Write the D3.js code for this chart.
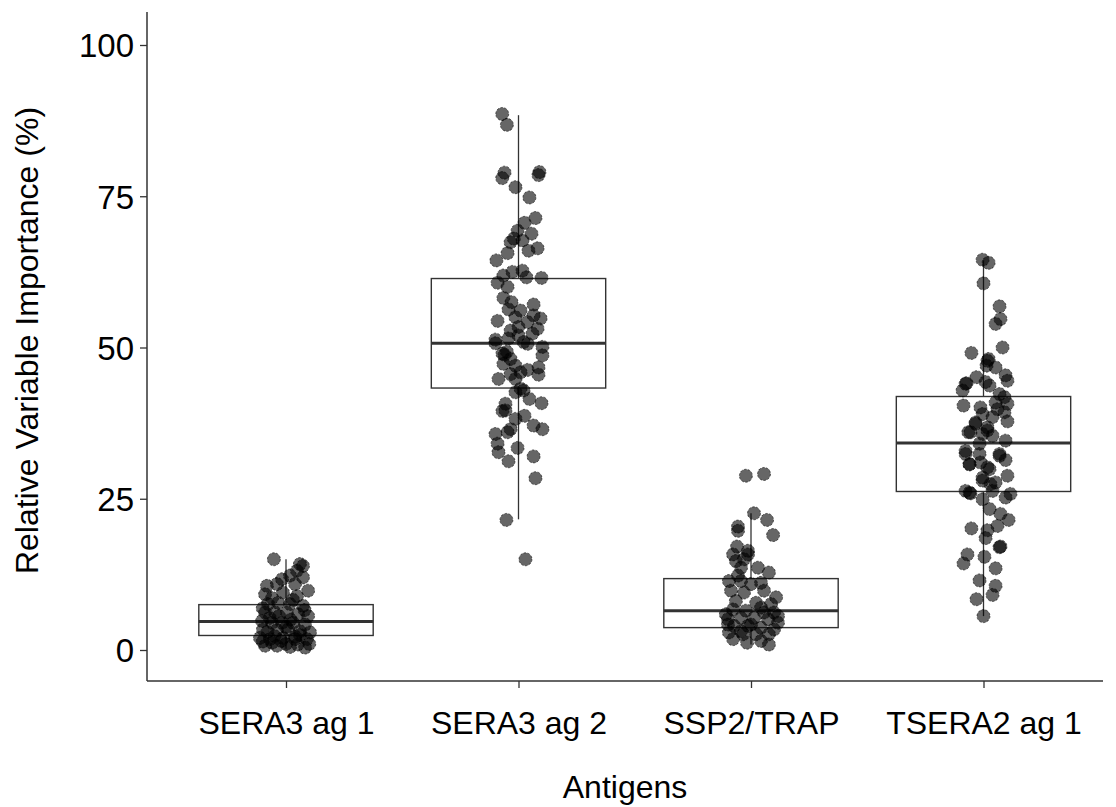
<!DOCTYPE html>
<html>
<head>
<meta charset="utf-8">
<script src="https://cdn.jsdelivr.net/npm/d3@7"></script>
<style>
  body { margin: 0; background: #fff; }
  svg text { font-family: "Liberation Sans", Arial, sans-serif; fill: #000; }
</style>
</head>
<body>
<svg id="chart" width="1116" height="807"></svg>
<script>
// Categories and tick labels
const antigens = ['SERA3 ag 1', 'SERA3 ag 2', 'SSP2/TRAP', 'TSERA2 ag 1'];
const yTicks = [0, 25, 50, 75, 100];

// Box stats: [lower whisker, q1, median, q3, upper whisker]
const boxSERA3ag1 = [0.2, 2.4, 4.7, 7.5, 15.0];
const boxSERA3ag2 = [21.6, 43.3, 50.7, 61.4, 88.4];
const boxSSP2 = [0.9, 3.7, 6.5, 11.8, 22.6];
const boxTSERA2 = [5.6, 26.2, 34.2, 41.9, 64.4];

// Jittered points: [jitter (category units), importance %]
const ptsSERA3ag1 = [
  [-0.052, 15.0], [0.06, 14.2], [0.073, 13.9], [0.047, 13.1], [0.017, 12.3], [-0.017, 11.7],
  [0.073, 12.0], [0.095, 9.8], [-0.082, 10.6], [-0.039, 10.9], [0.039, 10.9], [-0.09, 9.2],
  [-0.013, 9.5], [0.047, 8.9], [-0.077, 7.6], [-0.034, 7.8], [0.017, 7.6], [0.073, 7.3],
  [-0.09, 6.2], [-0.047, 6.2], [0.004, 6.2], [0.052, 5.9], [0.095, 5.6], [-0.103, 4.8],
  [-0.06, 4.5], [-0.017, 4.5], [0.03, 4.5], [0.082, 4.2], [-0.099, 3.4], [-0.039, 3.3],
  [0.009, 3.4], [0.06, 3.1], [0.103, 2.9], [-0.112, 2.0], [-0.069, 1.8], [-0.013, 2.0],
  [0.039, 1.8], [0.09, 1.8], [-0.09, 0.7], [-0.039, 0.7], [0.017, 0.5], [0.082, 0.4],
  [-0.07, 5.3], [-0.03, 5.6], [0.02, 5.0], [0.06, 2.5], [-0.08, 3.0], [-0.05, 2.3],
  [0.0, 1.0], [0.05, 0.9], [-0.06, 1.2], [0.08, 6.6], [-0.1, 6.9], [0.03, 8.3],
  [-0.06, 8.6], [0.0, 3.8], [0.04, 2.2], [-0.02, 1.5], [0.1, 1.0], [-0.1, 1.4]
];
const ptsSERA3ag2 = [
  [-0.07, 88.6], [-0.05, 86.8], [-0.06, 78.9], [-0.07, 78.0], [0.09, 79.0], [0.086, 78.5],
  [-0.013, 76.5], [0.047, 74.8], [0.073, 71.4], [0.026, 70.6], [-0.004, 69.3], [0.056, 68.8],
  [-0.02, 68.0], [-0.034, 67.4], [0.017, 67.7], [0.082, 66.4], [0.043, 66.0], [-0.047, 65.6],
  [-0.095, 64.4], [-0.026, 62.5], [0.017, 62.7], [-0.065, 61.9], [0.034, 61.6], [0.099, 61.5],
  [-0.09, 60.7], [-0.047, 60.0], [-0.065, 58.2], [0.065, 57.1], [-0.043, 56.3], [0.009, 56.1],
  [-0.09, 54.4], [0.095, 54.8], [-0.013, 55.0], [0.065, 55.3], [0.039, 54.2], [0.0, 53.4],
  [0.082, 53.1], [-0.034, 52.8], [-0.099, 51.3], [-0.043, 51.5], [0.022, 50.9], [0.103, 50.1],
  [-0.099, 50.7], [0.039, 50.6], [-0.069, 49.0], [-0.034, 48.1], [0.103, 48.7], [-0.065, 47.3],
  [-0.013, 47.0], [0.086, 46.7], [0.039, 46.3], [0.009, 45.9], [-0.034, 45.6], [0.086, 45.5],
  [-0.086, 44.8], [-0.013, 44.8], [0.009, 43.2], [-0.013, 42.6], [0.022, 42.9], [0.047, 41.5],
  [0.099, 40.8], [-0.056, 40.7], [-0.069, 39.5], [-0.056, 39.6], [0.026, 38.7], [-0.013, 38.2],
  [0.065, 37.1], [0.103, 36.5], [-0.034, 36.5], [-0.099, 35.7], [-0.047, 36.0], [-0.09, 34.1],
  [-0.004, 33.4], [-0.086, 32.7], [0.065, 32.0], [-0.043, 31.2], [0.073, 28.4], [-0.052, 21.5],
  [0.03, 15.0], [-0.06, 48.8], [-0.05, 49.3], [-0.03, 57.5], [0.0, 52.0], [0.06, 52.3]
];
const ptsSSP2 = [
  [-0.022, 28.8], [0.056, 29.1], [0.013, 22.6], [0.069, 21.5], [0.095, 19.0], [-0.056, 20.4],
  [-0.056, 19.7], [-0.06, 17.1], [-0.013, 16.4], [-0.065, 14.7], [-0.03, 15.0], [-0.043, 13.6],
  [0.03, 13.6], [0.077, 12.8], [-0.095, 11.4], [-0.043, 11.4], [0.0, 10.9], [0.043, 11.1],
  [-0.086, 9.8], [-0.03, 9.5], [0.056, 9.8], [0.108, 8.7], [-0.065, 8.1], [0.022, 7.8],
  [0.086, 7.6], [0.043, 7.0], [-0.077, 6.7], [-0.022, 6.5], [0.099, 6.2], [-0.099, 5.1],
  [-0.043, 5.3], [0.013, 5.3], [0.073, 5.1], [0.116, 4.5], [-0.073, 4.0], [-0.013, 4.0],
  [0.043, 3.7], [0.099, 3.4], [-0.095, 2.9], [-0.034, 2.6], [0.022, 2.6], [0.077, 2.6],
  [-0.077, 1.8], [-0.017, 1.2], [0.043, 1.5], [0.077, 0.9], [-0.043, 3.1], [-0.099, 4.2],
  [0.116, 5.6], [0.0, 4.2], [-0.108, 5.9], [0.056, 6.2], [-0.056, 12.3], [-0.077, 15.8],
  [-0.013, 15.8]
];
const ptsTSERA2 = [
  [-0.004, 64.5], [0.022, 64.0], [0.0, 60.6], [0.069, 56.8], [0.073, 54.7], [0.052, 53.9],
  [0.082, 50.0], [-0.052, 49.1], [0.022, 48.1], [0.013, 47.0], [0.052, 46.7], [0.095, 45.4],
  [-0.03, 45.1], [0.103, 44.5], [-0.073, 44.1], [0.009, 44.3], [-0.09, 42.9], [0.026, 43.7],
  [0.069, 42.3], [0.09, 41.8], [0.052, 40.9], [0.103, 40.7], [-0.086, 40.4], [-0.013, 40.1],
  [0.06, 39.8], [-0.004, 39.0], [0.09, 39.3], [0.039, 38.5], [0.103, 37.8], [-0.034, 37.4],
  [0.017, 36.8], [-0.065, 36.0], [-0.004, 35.7], [0.039, 35.4], [0.095, 34.6], [-0.017, 34.1],
  [-0.077, 32.4], [0.069, 32.4], [0.095, 31.4], [-0.06, 30.7], [-0.013, 31.0], [0.026, 29.9],
  [0.103, 28.8], [-0.004, 28.0], [0.052, 27.7], [-0.077, 26.3], [-0.056, 25.9], [0.039, 26.3],
  [0.116, 25.8], [0.095, 25.2], [-0.004, 24.9], [0.026, 23.3], [0.073, 22.5], [0.108, 21.5],
  [0.06, 20.5], [-0.052, 20.1], [0.017, 19.8], [0.009, 18.5], [0.073, 17.1], [0.069, 17.0],
  [-0.069, 15.8], [0.004, 15.4], [-0.086, 14.3], [0.052, 13.5], [-0.017, 11.5], [0.052, 10.6],
  [0.039, 9.1], [-0.03, 8.4], [0.0, 5.6], [0.017, 47.8], [-0.077, 44.0], [-0.034, 37.6],
  [-0.056, 36.0], [0.017, 36.3], [-0.077, 32.9], [-0.017, 32.4], [0.069, 32.1], [-0.06, 30.7],
  [0.017, 30.2], [-0.004, 28.5], [0.03, 27.4], [-0.06, 26.0]
];

const boxes = [boxSERA3ag1, boxSERA3ag2, boxSSP2, boxTSERA2];
const points = [ptsSERA3ag1, ptsSERA3ag2, ptsSSP2, ptsTSERA2];

const svg = d3.select('#chart');
const panel = { left: 147, right: 1103, top: 12, bottom: 681 };
const FONT = '"Liberation Sans", Arial, sans-serif';

const x = d3.scalePoint().domain(antigens).range([286, 983.5]);
const step = x.step();
const y = d3.scaleLinear().domain([0, 100]).range([650, 45]);
const boxW = step * 0.75;

// Boxes + whiskers
const gBox = svg.append('g').attr('class', 'boxes');
antigens.forEach((name, i) => {
  const b = boxes[i], cx = x(name);
  const g = gBox.append('g');
  g.append('line').attr('x1', cx).attr('x2', cx).attr('y1', y(b[3])).attr('y2', y(b[4]))
    .attr('stroke', '#333').attr('stroke-width', 1.3);
  g.append('line').attr('x1', cx).attr('x2', cx).attr('y1', y(b[1])).attr('y2', y(b[0]))
    .attr('stroke', '#333').attr('stroke-width', 1.3);
  g.append('rect').attr('x', cx - boxW / 2).attr('width', boxW)
    .attr('y', y(b[3])).attr('height', y(b[1]) - y(b[3]))
    .attr('fill', '#fff').attr('stroke', '#333').attr('stroke-width', 1.4);
  g.append('line').attr('x1', cx - boxW / 2).attr('x2', cx + boxW / 2)
    .attr('y1', y(b[2])).attr('y2', y(b[2]))
    .attr('stroke', '#333').attr('stroke-width', 3);
});

// Jittered points
const gPts = svg.append('g').attr('class', 'points');
antigens.forEach((name, i) => {
  gPts.selectAll(null).data(points[i]).join('circle')
    .attr('cx', d => x(name) + d[0] * step)
    .attr('cy', d => y(d[1]))
    .attr('r', 6.5)
    .attr('fill', 'rgba(0,0,0,0.6)')
    .attr('stroke', 'rgba(0,0,0,0.55)')
    .attr('stroke-width', 1)
    .attr('stroke-dasharray', '2.5,1.5');
});

// Axes
const yAxis = svg.append('g').attr('transform', `translate(${panel.left},0)`)
  .call(d3.axisLeft(y).tickValues(yTicks).tickSize(7).tickPadding(6));
yAxis.select('.domain').remove();
yAxis.append('line').attr('x1', 0).attr('x2', 0).attr('y1', panel.top).attr('y2', panel.bottom)
  .attr('stroke', '#333').attr('stroke-width', 1.5);
yAxis.selectAll('.tick line').attr('stroke', '#333').attr('stroke-width', 1.3);
yAxis.selectAll('.tick text').attr('font-size', 33).attr('fill', '#000')
  .attr('font-family', FONT).attr('dy', '0.36em');

const xAxis = svg.append('g').attr('transform', `translate(0,${panel.bottom})`)
  .call(d3.axisBottom(x).tickSize(7));
xAxis.select('.domain').remove();
xAxis.append('line').attr('x1', panel.left).attr('x2', panel.right).attr('y1', 0).attr('y2', 0)
  .attr('stroke', '#333').attr('stroke-width', 1.5);
xAxis.selectAll('.tick line').attr('stroke', '#333').attr('stroke-width', 1.3);
xAxis.selectAll('.tick text').attr('font-size', 32).attr('fill', '#000')
  .attr('font-family', FONT).attr('y', 53).attr('dy', null);

// Axis titles
svg.append('text')
  .attr('x', (panel.left + panel.right) / 2).attr('y', 798)
  .attr('text-anchor', 'middle').attr('font-size', 32)
  .text('Antigens');
svg.append('text')
  .attr('transform', `translate(38,${(panel.top + panel.bottom) / 2 - 6}) rotate(-90)`)
  .attr('text-anchor', 'middle').attr('font-size', 32)
  .text('Relative Variable Importance (%)');
</script>
</body>
</html>
